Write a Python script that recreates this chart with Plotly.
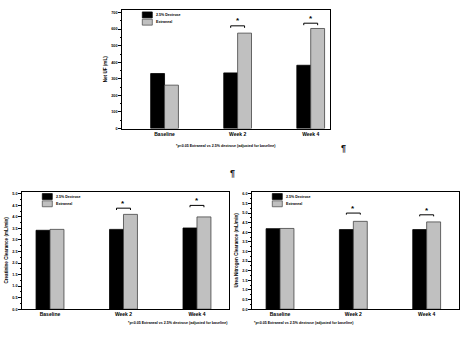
import plotly.graph_objects as go

W, H = 461, 337

categories = ["Baseline", "Week 2", "Week 4"]
series_names = ["2.5% Dextrose", "Extraneal"]

net_uf_dextrose = [332, 336, 382]
net_uf_extraneal = [262, 576, 604]

creat_dextrose = [3.42, 3.46, 3.52]
creat_extraneal = [3.46, 4.11, 4.00]

urea_dextrose = [4.19, 4.14, 4.14]
urea_extraneal = [4.20, 4.57, 4.54]

net_uf_ticks = [0, 100, 200, 300, 400, 500, 600, 700]
creat_ticks = [0.0, 0.5, 1.0, 1.5, 2.0, 2.5, 3.0, 3.5, 4.0, 4.5, 5.0]
urea_ticks = [0.0, 0.5, 1.0, 1.5, 2.0, 2.5, 3.0, 3.5, 4.0, 4.5, 5.0, 5.5, 6.0]

significant = [False, True, True]
footnote = "*p<0.05 Extraneal vs 2.5% dextrose (adjusted for baseline)"

FONT = "Liberation Sans"
DARK = "#000000"
GREY = "#c0c0c0"


def px(x):
    return x / W


def py(y):
    return 1 - y / H


panels = [
    dict(xd=[px(122.3), px(330)], yd=[py(129.3), py(10)], xr=[-0.578, 2.264],
         yr=[0, 716], d=net_uf_dextrose, e=net_uf_extraneal, ticks=net_uf_ticks,
         fmt=",d", title="Net UF (mL)", minor=50, boff=[44, 32], bdrop=12, aoff=30),
    dict(xd=[px(22.3), px(229.3)], yd=[py(311), py(192.7)], xr=[-0.377, 2.44],
         yr=[0, 5.1], d=creat_dextrose, e=creat_extraneal, ticks=creat_ticks,
         fmt=".1f", title="Creatinine Clearance (mL/min)", minor=0.25, boff=[0.27, 0.5],
         bdrop=0.08, aoff=0.2),
    dict(xd=[px(252.3), px(459.3)], yd=[py(311), py(192.7)], xr=[-0.378, 2.445],
         yr=[0, 6.12], d=urea_dextrose, e=urea_extraneal, ticks=urea_ticks,
         fmt=".1f", title="Urea Nitrogen Clearance (mL/min)", minor=0.25, boff=[0.43, 0.37],
         bdrop=0.08, aoff=0.23),
]

fig = go.Figure()
BW = 0.19
annotations = []
shapes = []
layout_axes = {}

for i, p in enumerate(panels):
    xa = "x" if i == 0 else f"x{i+1}"
    ya = "y" if i == 0 else f"y{i+1}"
    xs = list(range(len(categories)))
    fig.add_trace(go.Bar(x=xs, y=p["d"], name=series_names[0], xaxis=xa, yaxis=ya,
                         width=BW, offset=-BW, marker=dict(color=DARK, line=dict(color=DARK, width=0.8)),
                         showlegend=False))
    fig.add_trace(go.Bar(x=xs, y=p["e"], name=series_names[1], xaxis=xa, yaxis=ya,
                         width=BW, offset=0, marker=dict(color=GREY, line=dict(color="#444444", width=0.8)),
                         showlegend=False))
    # significance brackets
    k = 0
    for j, sig in enumerate(significant):
        if not sig:
            continue
        top = max(p["d"][j], p["e"][j]) + p["boff"][k]
        k += 1
        fig.add_trace(go.Scatter(x=[j - BW / 2, j - BW / 2, j + BW / 2, j + BW / 2],
                                 y=[top - p["bdrop"], top, top, top - p["bdrop"]],
                                 mode="lines", line=dict(color="black", width=1),
                                 xaxis=xa, yaxis=ya, showlegend=False, hoverinfo="skip"))
        annotations.append(dict(x=j, y=top + p["aoff"], xref=xa, yref=ya, text="*",
                                showarrow=False, font=dict(family=FONT, size=8, color="black", weight="bold")))
    axsuffix = "" if i == 0 else str(i + 1)
    layout_axes["xaxis" + axsuffix] = dict(
        domain=p["xd"], range=p["xr"], tickvals=xs, ticktext=categories, anchor=ya,
        showline=True, linecolor="black", linewidth=1, mirror=True, ticks="",
        showgrid=False, zeroline=False, tickfont=dict(family=FONT, size=5, color="black", weight="bold"),
        fixedrange=True)
    layout_axes["yaxis" + axsuffix] = dict(
        domain=p["yd"], range=p["yr"], tickvals=p["ticks"], tickformat=p["fmt"], anchor=xa,
        showline=True, linecolor="black", linewidth=1, mirror=True, ticks="outside",
        ticklen=3, tickwidth=1, tickcolor="black", showgrid=False, zeroline=False,
        tickfont=dict(family=FONT, size=3.8, color="black", weight="bold"),
        minor=dict(ticks="outside", ticklen=1.5, tickwidth=0.7, tickcolor="black", dtick=p["minor"],
                   tick0=0, showgrid=False),
        title=dict(text=p["title"], font=dict(family=FONT, size=4.6, color="black", weight="bold"), standoff=3),
        fixedrange=True)
    # footnote
    x0, x1 = p["xd"]
    annotations.append(dict(x=(x0 + x1) / 2, y=p["yd"][0] - 18 / H, xref="paper", yref="paper",
                            text=footnote, showarrow=False,
                            font=dict(family=FONT, size=3.6, color="black", weight="bold")))
    # legend swatches
    lx = x0 + 20 / W
    ly = p["yd"][1] - 5 / H
    for n, (name, col, lc) in enumerate(zip(series_names, [DARK, GREY], [DARK, "#444444"])):
        yc = ly - n * 7.3 / H
        shapes.append(dict(type="rect", xref="paper", yref="paper", x0=lx, x1=lx + 10 / W,
                           y0=yc - 3 / H, y1=yc + 3 / H, fillcolor=col, line=dict(color=lc, width=0.7)))
        annotations.append(dict(x=lx + 12 / W, y=yc, xref="paper", yref="paper", text=name,
                                showarrow=False, xanchor="left", yanchor="middle",
                                font=dict(family=FONT, size=3.6, color="black", weight="bold")))

# pilcrow marks in the page
annotations.append(dict(x=px(348), y=py(149), xref="paper", yref="paper", text="¶", showarrow=False,
                        font=dict(family=FONT, size=9, color="#111111", weight="bold")))
annotations.append(dict(x=px(232), y=py(174), xref="paper", yref="paper", text="¶", showarrow=False,
                        font=dict(family=FONT, size=9, color="#111111", weight="bold")))

fig.update_layout(
    width=W, height=H, margin=dict(l=0, r=0, t=0, b=0),
    paper_bgcolor="white", plot_bgcolor="white",
    barmode="overlay", showlegend=False,
    annotations=annotations, shapes=shapes,
    font=dict(family=FONT, color="black"),
    **layout_axes,
)

fig.write_html("out.html", config={"displayModeBar": False})
